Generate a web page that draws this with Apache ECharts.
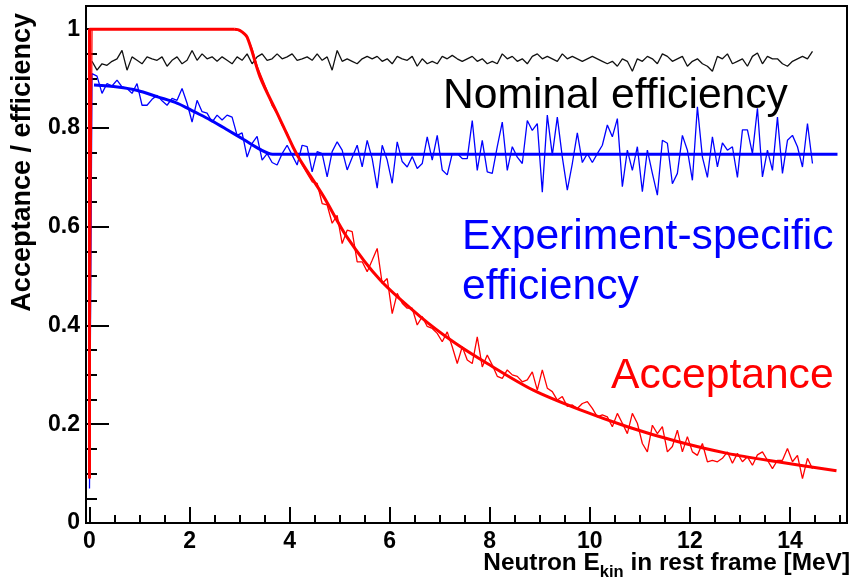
<!DOCTYPE html>
<html>
<head>
<meta charset="utf-8">
<script src="https://cdn.jsdelivr.net/npm/echarts@6/dist/echarts.min.js"></script>
<style>
html,body{margin:0;padding:0;background:#fff;}
#chart{width:854px;height:582px;}
</style>
</head>
<body>
<div id="chart"></div>
<script>
// ---- axis definitions ----
const xMin = -0.07, xMax = 15.14;
const yMin = 0, yMax = 1.047;
const xMajorTicks = [0, 2, 4, 6, 8, 10, 12, 14];
const xMinorTicks = [0.5, 1, 1.5, 2.5, 3, 3.5, 4.5, 5, 5.5, 6.5, 7, 7.5, 8.5, 9, 9.5, 10.5, 11, 11.5, 12.5, 13, 13.5, 14.5, 15];
const yMajorTicks = [0, 0.2, 0.4, 0.6, 0.8, 1];
const yMinorTicks = [0.05, 0.1, 0.15, 0.25, 0.3, 0.35, 0.45, 0.5, 0.55, 0.65, 0.7, 0.75, 0.85, 0.9, 0.95];

// histogram bin centres (0.1 MeV bins)
const binCenters = Array.from({length: 145}, (_, i) => +(0.05 + 0.1 * i).toFixed(2));

// ---- nominal efficiency (black) ----
const nominalEff = [
  0.935, 0.917, 0.93, 0.927, 0.935, 0.94, 0.957, 0.917, 0.944, 0.937,
  0.93, 0.944, 0.94, 0.937, 0.944, 0.925, 0.937, 0.944, 0.93, 0.937,
  0.957, 0.937, 0.95, 0.94, 0.944, 0.935, 0.944, 0.937, 0.93, 0.944,
  0.937, 0.95, 0.93, 0.944, 0.95, 0.937, 0.94, 0.95, 0.94, 0.944,
  0.95, 0.937, 0.94, 0.944, 0.937, 0.95, 0.937, 0.944, 0.917, 0.957,
  0.935, 0.94, 0.935, 0.93, 0.94, 0.945, 0.94, 0.945, 0.935, 0.94,
  0.93, 0.945, 0.94, 0.937, 0.945, 0.925, 0.94, 0.93, 0.935, 0.93,
  0.945, 0.94, 0.947, 0.94, 0.935, 0.94, 0.945, 0.935, 0.94, 0.93,
  0.935, 0.93, 0.95, 0.94, 0.945, 0.935, 0.94, 0.93, 0.945, 0.95,
  0.94, 0.945, 0.94, 0.935, 0.95, 0.94, 0.945, 0.94, 0.935, 0.94,
  0.945, 0.94, 0.935, 0.93, 0.935, 0.925, 0.94, 0.935, 0.915, 0.94,
  0.935, 0.945, 0.94, 0.93, 0.95, 0.945, 0.935, 0.94, 0.945, 0.925,
  0.935, 0.94, 0.93, 0.925, 0.915, 0.945, 0.94, 0.95, 0.93, 0.935,
  0.94, 0.925, 0.945, 0.952, 0.93, 0.945, 0.94, 0.94, 0.93, 0.925,
  0.935, 0.94, 0.945, 0.94, 0.955
];

// ---- experiment-specific efficiency (blue histogram) ----
const expEffStart = [0, 0.07];
const expEff = [
  0.91, 0.905, 0.87, 0.89, 0.885, 0.897, 0.883, 0.88, 0.87, 0.89,
  0.846, 0.846, 0.858, 0.866, 0.855, 0.846, 0.86, 0.856, 0.88, 0.85,
  0.812, 0.856, 0.833, 0.83, 0.812, 0.826, 0.816, 0.826, 0.822, 0.785,
  0.79, 0.741, 0.769, 0.783, 0.735, 0.748, 0.73, 0.725, 0.748, 0.765,
  0.745, 0.725, 0.765, 0.762, 0.711, 0.752, 0.748, 0.701, 0.752, 0.772,
  0.755, 0.715, 0.74, 0.765, 0.721, 0.775, 0.738, 0.678, 0.765, 0.735,
  0.688, 0.772, 0.732, 0.721, 0.742, 0.718, 0.728, 0.782, 0.735, 0.785,
  0.715, 0.705, 0.748, 0.748, 0.738, 0.738, 0.815, 0.714, 0.775, 0.711,
  0.708, 0.762, 0.812, 0.714, 0.762, 0.741, 0.728, 0.815, 0.795, 0.809,
  0.67, 0.826, 0.745, 0.822, 0.741, 0.674, 0.728, 0.79, 0.73, 0.748,
  0.73, 0.748, 0.765, 0.806, 0.782, 0.819, 0.681, 0.755, 0.714, 0.762,
  0.671, 0.755, 0.708, 0.664, 0.775, 0.769, 0.687, 0.708, 0.785, 0.755,
  0.694, 0.843, 0.741, 0.70, 0.782, 0.721, 0.77, 0.755, 0.762, 0.70,
  0.796, 0.796, 0.748, 0.84, 0.701, 0.755, 0.714, 0.822, 0.708, 0.775,
  0.785, 0.762, 0.721, 0.809, 0.728
];
// fitted curve (blue)
const expFitX = [0.09, 0.56, 0.96, 1.36, 1.76, 2.09, 2.42, 2.76, 3.09, 3.42, 3.66, 4.0, 14.95];
const expFitY = [0.887, 0.883, 0.876, 0.863, 0.85, 0.833, 0.816, 0.796, 0.776, 0.756, 0.747, 0.747, 0.747];

// ---- acceptance (red histogram) ----
const accStart = [0, 0.09];
const acceptance = [
  1, 1, 1, 1, 1, 1, 1, 1, 1, 1,
  1, 1, 1, 1, 1, 1, 1, 1, 1, 1,
  1, 1, 1, 1, 1, 1, 1, 1, 1, 0.998,
  0.995, 0.985, 0.96, 0.925, 0.90, 0.875, 0.845, 0.83, 0.805, 0.79,
  0.765, 0.745, 0.725, 0.708, 0.691, 0.688, 0.647, 0.644, 0.607, 0.623,
  0.566, 0.593, 0.59, 0.529, 0.529, 0.509, 0.532, 0.556, 0.485, 0.495,
  0.424, 0.465, 0.445, 0.435, 0.435, 0.401, 0.418, 0.398, 0.394, 0.384,
  0.367, 0.387, 0.357, 0.323, 0.357, 0.33, 0.323, 0.377, 0.316, 0.34,
  0.32, 0.297, 0.293, 0.31, 0.30, 0.297, 0.286, 0.29, 0.306, 0.269,
  0.31, 0.273, 0.266, 0.249, 0.256, 0.236, 0.239, 0.232, 0.242, 0.246,
  0.232, 0.215, 0.219, 0.215, 0.195, 0.222, 0.202, 0.181, 0.222, 0.202,
  0.161, 0.144, 0.198, 0.181, 0.195, 0.144, 0.155, 0.188, 0.144, 0.175,
  0.144, 0.137, 0.161, 0.124, 0.127, 0.124, 0.131, 0.144, 0.121, 0.141,
  0.124, 0.134, 0.117, 0.138, 0.144, 0.127, 0.11, 0.127, 0.127, 0.151,
  0.124, 0.137, 0.09, 0.131, 0.11
];
// fitted curve (red): rising edge + plateau, then smooth fall
const accEdgeX = [0, 0, 2.9];
const accEdgeY = [0.09, 1.0, 1.0];
const accFitX = [2.9, 3.0, 3.15, 3.41, 3.75, 4.07, 4.21, 4.68, 5.14, 5.81, 6.61, 7.27, 7.95, 8.87, 9.81, 10.75, 11.75, 12.75, 13.75, 14.93];
const accFitY = [1.0, 0.998, 0.984, 0.903, 0.83, 0.761, 0.735, 0.661, 0.58, 0.492, 0.418, 0.367, 0.323, 0.269, 0.229, 0.195, 0.165, 0.141, 0.124, 0.106];

// ---- texts ----
const yTitle = 'Acceptance / efficiency';
const xTitleMain = 'Neutron E';
const xTitleSub = 'kin';
const xTitleRest = ' in rest frame [MeV]';

// ---- build ----
const zip = (xs, ys) => xs.map((x, i) => [x, ys[i]]);
const FONT = '"Liberation Sans", Arial, Helvetica, sans-serif';

const mctx = document.createElement('canvas').getContext('2d');
function textWidth(txt, size) {
  mctx.font = 'bold ' + size + 'px ' + FONT;
  return mctx.measureText(txt).width;
}
const XT_SIZE = 24.4, XT_SUB = 16.5, XT_RIGHT = 850;
const wRest = textWidth(xTitleRest, XT_SIZE);
const wSub = textWidth(xTitleSub, XT_SUB);
const subLeft = XT_RIGHT - wRest - wSub;

const chart = echarts.init(document.getElementById('chart'), null, {renderer: 'canvas'});

const baseX = {type: 'value', min: xMin, max: xMax, position: 'bottom', splitLine: {show: false}};
const baseY = {type: 'value', min: yMin, max: yMax, position: 'left', splitLine: {show: false}};

chart.setOption({
  animation: false,
  backgroundColor: '#fff',
  grid: {left: 86, right: 7, top: 6, bottom: 59, show: true, borderColor: '#000', borderWidth: 2, containLabel: false},
  xAxis: [
    Object.assign({}, baseX, {
      axisLine: {show: true, onZero: false, lineStyle: {color: '#000', width: 2}},
      axisTick: {show: true, inside: true, length: 16, customValues: xMajorTicks, lineStyle: {color: '#000', width: 2}},
      axisLabel: {show: true, customValues: xMajorTicks, margin: 7, color: '#000', fontSize: 23, fontWeight: 'bold', fontFamily: FONT}
    }),
    Object.assign({}, baseX, {
      axisLine: {show: false, onZero: false},
      axisTick: {show: true, inside: true, length: 8, customValues: xMinorTicks, lineStyle: {color: '#000', width: 2}},
      axisLabel: {show: false}
    })
  ],
  yAxis: [
    Object.assign({}, baseY, {
      axisLine: {show: true, onZero: false, lineStyle: {color: '#000', width: 2}},
      axisTick: {show: true, inside: true, length: 23, customValues: yMajorTicks, lineStyle: {color: '#000', width: 2}},
      axisLabel: {show: true, customValues: yMajorTicks, margin: 6, color: '#000', fontSize: 23, fontWeight: 'bold', fontFamily: FONT}
    }),
    Object.assign({}, baseY, {
      axisLine: {show: false, onZero: false},
      axisTick: {show: true, inside: true, length: 11, customValues: yMinorTicks, lineStyle: {color: '#000', width: 2}},
      axisLabel: {show: false}
    })
  ],
  series: [
    {type: 'line', name: 'Nominal efficiency', xAxisIndex: 0, yAxisIndex: 0, symbol: 'none',
     lineStyle: {color: '#111', width: 1.3}, data: zip(binCenters, nominalEff), z: 2},
    {type: 'line', name: 'Experiment-specific efficiency', xAxisIndex: 0, yAxisIndex: 0, symbol: 'none',
     lineStyle: {color: '#0000ff', width: 1.3}, data: [expEffStart].concat(zip(binCenters, expEff)), z: 3},
    {type: 'line', name: 'Experiment-specific fit', xAxisIndex: 0, yAxisIndex: 0, symbol: 'none', smooth: 0.3,
     lineStyle: {color: '#0000ff', width: 3}, data: zip(expFitX, expFitY), z: 4},
    {type: 'line', name: 'Acceptance', xAxisIndex: 0, yAxisIndex: 0, symbol: 'none',
     lineStyle: {color: '#ff0000', width: 1.3}, data: [accStart].concat(zip(binCenters, acceptance)), z: 5},
    {type: 'line', name: 'Acceptance edge', xAxisIndex: 0, yAxisIndex: 0, symbol: 'none',
     lineStyle: {color: '#ff0000', width: 3}, data: zip(accEdgeX, accEdgeY), z: 6},
    {type: 'line', name: 'Acceptance fit', xAxisIndex: 0, yAxisIndex: 0, symbol: 'none', smooth: 0.3,
     lineStyle: {color: '#ff0000', width: 3}, data: zip(accFitX, accFitY), z: 6}
  ],
  graphic: [
    {type: 'text', x: 23, y: 13, rotation: Math.PI / 2, z: 10,
     style: {text: yTitle, fontSize: 27, fontWeight: 'bold', fontFamily: FONT, fill: '#000', align: 'right', verticalAlign: 'middle'}},
    {type: 'text', x: subLeft, y: 563, z: 10,
     style: {text: xTitleMain, fontSize: XT_SIZE, fontWeight: 'bold', fontFamily: FONT, fill: '#000', align: 'right', verticalAlign: 'middle'}},
    {type: 'text', x: subLeft, y: 572, z: 10,
     style: {text: xTitleSub, fontSize: XT_SUB, fontWeight: 'bold', fontFamily: FONT, fill: '#000', align: 'left', verticalAlign: 'middle'}},
    {type: 'text', x: XT_RIGHT, y: 563, z: 10,
     style: {text: xTitleRest, fontSize: XT_SIZE, fontWeight: 'bold', fontFamily: FONT, fill: '#000', align: 'right', verticalAlign: 'middle'}},
    {type: 'text', x: 443, y: 96, z: 10,
     style: {text: 'Nominal efficiency', fontSize: 42.6, fontFamily: FONT, fill: '#000', align: 'left', verticalAlign: 'middle'}},
    {type: 'text', x: 462, y: 237, z: 10,
     style: {text: 'Experiment-specific', fontSize: 42.6, fontFamily: FONT, fill: '#0000ff', align: 'left', verticalAlign: 'middle'}},
    {type: 'text', x: 462, y: 287, z: 10,
     style: {text: 'efficiency', fontSize: 42.6, fontFamily: FONT, fill: '#0000ff', align: 'left', verticalAlign: 'middle'}},
    {type: 'text', x: 611, y: 376, z: 10,
     style: {text: 'Acceptance', fontSize: 42.6, fontFamily: FONT, fill: '#ff0000', align: 'left', verticalAlign: 'middle'}}
  ]
});
</script>
</body>
</html>
